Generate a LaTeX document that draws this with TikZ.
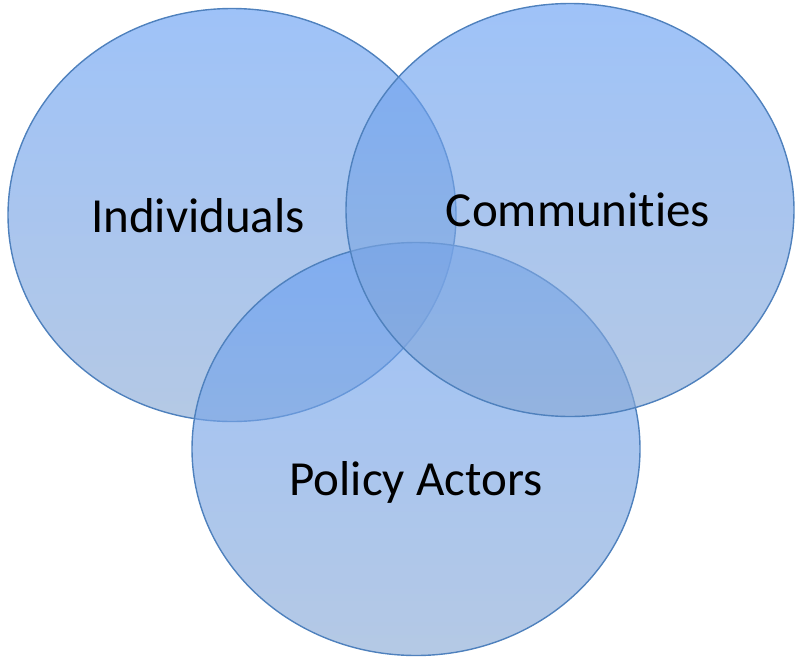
\documentclass[tikz,border=0pt]{standalone}
\usepackage{fontspec}
\setmainfont{Carlito}[Ligatures={NoCommon}]
\usetikzlibrary{shapes.geometric}
\definecolor{ringline}{RGB}{79,129,189}
\definecolor{ringtop}{RGB}{104,160,244}
\definecolor{ringbot}{RGB}{138,170,214}
\tikzset{
  ring/.style={ellipse, draw=ringline, line width=1.4pt, inner sep=0pt,
    top color=ringtop, bottom color=ringbot, fill opacity=0.64, draw opacity=1,
    minimum width=448pt, minimum height=413pt},
  lbl/.style={font=\fontsize{49}{55}\selectfont, anchor=base, inner sep=0pt, text=black}
}
\begin{document}
\begin{tikzpicture}[x=1pt,y=-1pt]
\useasboundingbox (0,0) rectangle (801,667);
\node[ring] (ind) at (232,215) {};
\node[ring] (pol) at (416,449) {};
\node[ring] (com) at (570,210) {};
\node[lbl] (tind) at (198,232) {Individuals};
\node[lbl] (tcom) at (578,226) {Communities};
\node[lbl] (tpol) at (416,495) {Policy Actors};
\end{tikzpicture}
\end{document}
